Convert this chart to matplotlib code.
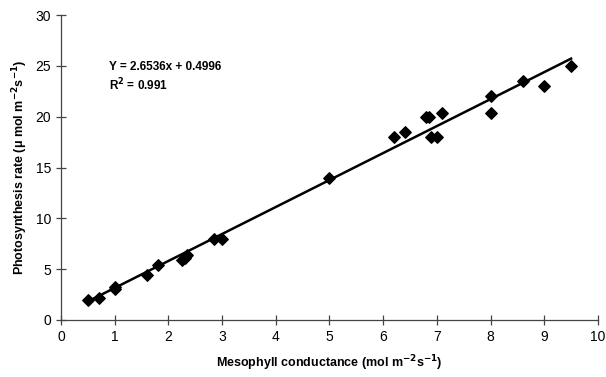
import matplotlib.pyplot as plt
import numpy as np

plt.rcParams['font.family'] = ['Liberation Sans', 'DejaVu Sans']

# Datos
conductance = [0.5, 0.7, 1.0, 1.0, 1.6, 1.8, 2.25, 2.3, 2.35, 2.85, 3.0,
               5.0, 6.2, 6.4, 6.8, 6.85, 6.9, 7.0, 7.1, 8.0, 8.0, 8.6, 9.0, 9.5]
photosynthesis = [2.0, 2.2, 3.0, 3.2, 4.4, 5.4, 5.9, 6.1, 6.4, 8.0, 8.0,
                  14.0, 18.0, 18.5, 20.0, 20.0, 18.0, 18.0, 20.4, 22.0, 20.4, 23.5, 23.0, 25.0]
slope, intercept = 2.6536, 0.4996

fig = plt.figure(figsize=(6.06, 3.77), dpi=100)
ax = fig.add_axes([0.1007, 0.1512, 0.886, 0.809])

xfit = np.array([min(conductance), max(conductance)])
ax.plot(xfit, slope * xfit + intercept, color='black', linewidth=1.8, zorder=2)
ax.scatter(conductance, photosynthesis, marker='D', s=34, color='black', zorder=3)

ax.set_xlim(0, 10)
ax.set_ylim(0, 30)
ax.set_xticks(range(0, 11))
ax.set_yticks(range(0, 31, 5))
for s in ['top', 'right']:
    ax.spines[s].set_visible(False)
for s in ['left', 'bottom']:
    ax.spines[s].set_color('#444444')
    ax.spines[s].set_linewidth(0.9)
ax.tick_params(direction='inout', length=7, width=0.9, color='#444444', labelsize=10)

ax.text(0.9, 24.9, 'Y = 2.6536x + 0.4996', fontsize=8.5, fontweight='bold', va='center')
ax.text(0.9, 23.1, r'R$^{\mathbf{2}}$ = 0.991', fontsize=8.5, fontweight='bold', va='center')

ax.set_xlabel('Mesophyll conductance (mol m$^{\\mathbf{-2}}$s$^{\\mathbf{-1}}$)',
              fontsize=9, fontweight='bold', labelpad=7)
ax.set_ylabel('Photosynthesis rate (\u03bc mol m$^{\\mathbf{-2}}$s$^{\\mathbf{-1}}$)',
              fontsize=9, fontweight='bold', labelpad=4)

plt.savefig('out.png', dpi=100)
